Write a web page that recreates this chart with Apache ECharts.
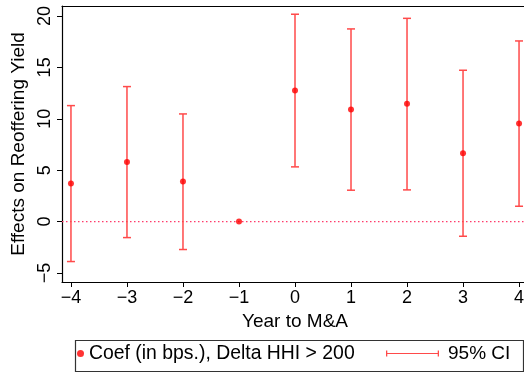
<!DOCTYPE html>
<html>
<head>
<meta charset="utf-8">
<script src="https://cdn.jsdelivr.net/npm/echarts@6/dist/echarts.min.js"></script>
<style>
html,body{margin:0;padding:0;background:#fff;}
#c{width:524px;height:372px;}
</style>
</head>
<body>
<div id="c"></div>
<script>
// Data
var years = [-4, -3, -2, -1, 0, 1, 2, 3, 4];
var coef = [3.7, 5.8, 3.9, 0, 12.74, 10.9, 11.45, 6.64, 9.53];
var ciLow = [-3.89, -1.56, -2.72, null, 5.32, 3.05, 3.08, -1.43, 1.49];
var ciHigh = [11.28, 13.13, 10.47, null, 20.17, 18.74, 19.77, 14.72, 17.57];
var xTicks = [-4, -3, -2, -1, 0, 1, 2, 3, 4];
var yTicks = [-5, 0, 5, 10, 15, 20];
var zeroLine = [0, 0];
var coefName = 'Coef (in bps.), Delta HHI > 200';
var ciName = '95% CI';

var XMIN = -4.16, XMAX = 4.16;
var pointData = years.map(function (x, i) { return [x, coef[i]]; });
var ciData = [];
years.forEach(function (x, i) {
  if (ciLow[i] !== null) ciData.push([x, ciLow[i], ciHigh[i]]);
});
var zeroData = [[XMIN, zeroLine[0]], [XMAX, zeroLine[1]]];

var FONT = '"Liberation Sans", Arial, Helvetica, sans-serif';
var CI_COLOR = '#ff4a4a';
function fmt(v) { return String(v).replace('-', '\u2212'); }

var chart = echarts.init(document.getElementById('c'), null, {renderer: 'canvas'});
chart.setOption({
  animation: false,
  backgroundColor: '#fff',
  grid: {left: 62, right: -4, top: 6, bottom: 90, outerBoundsMode: 'none', containLabel: false},
  xAxis: [{
    type: 'value', min: XMIN, max: XMAX,
    name: 'Year to M&A', nameLocation: 'middle', nameGap: 27,
    nameTextStyle: {fontFamily: FONT, fontSize: 19, color: '#000'},
    axisLine: {show: true, onZero: false, lineStyle: {color: '#000', width: 1.2}},
    axisTick: {show: true, length: 5, customValues: xTicks, lineStyle: {color: '#000'}},
    axisLabel: {customValues: xTicks, formatter: fmt, margin: 7, fontFamily: FONT, fontSize: 18, color: '#000', hideOverlap: false},
    splitLine: {show: false}
  }, {
    type: 'value', min: XMIN, max: XMAX, position: 'top',
    axisLine: {show: true, onZero: false, lineStyle: {color: '#000', width: 1.2}},
    axisTick: {show: false}, axisLabel: {show: false}, splitLine: {show: false}
  }],
  yAxis: {
    type: 'value', min: -5.88, max: 20.97,
    name: 'Effects on Reoffering Yield', nameLocation: 'middle', nameGap: 31,
    nameTextStyle: {fontFamily: FONT, fontSize: 19, color: '#000'},
    axisLine: {show: true, onZero: false, lineStyle: {color: '#000', width: 1.2}},
    axisTick: {show: true, length: 5, customValues: yTicks, lineStyle: {color: '#000'}},
    axisLabel: {customValues: yTicks, formatter: fmt, rotate: 90, margin: 8, fontFamily: FONT, fontSize: 18, color: '#000'},
    splitLine: {show: false}
  },
  legend: [{
    left: 77, top: 344, padding: 0, itemWidth: 7, itemHeight: 7,
    textStyle: {fontFamily: FONT, fontSize: 19.4, color: '#000'},
    data: [{name: coefName, icon: 'circle'}],
    selectedMode: false
  }, {
    left: 386, top: 344, padding: 0, itemWidth: 53, itemHeight: 6,
    textStyle: {fontFamily: FONT, fontSize: 19, color: '#000', padding: [0, 0, 0, 4]},
    data: [{name: ciName, icon: 'path://M0,0h1.3v6h-1.3z M0,2.4h53v1.2h-53z M51.7,0h1.3v6h-1.3z', itemStyle: {color: CI_COLOR}}],
    selectedMode: false
  }],
  graphic: [{
    type: 'rect', left: 73, top: 338,
    shape: {width: 448, height: 31},
    style: {fill: 'none', stroke: '#333', lineWidth: 1.2}
  }],
  series: [{
    name: 'zero',
    type: 'line',
    data: zeroData,
    symbol: 'none',
    silent: true,
    lineStyle: {color: '#ff3a6a', width: 1.2, type: [1.5, 2.5]},
    itemStyle: {color: '#ff3a6a'},
    z: 1
  }, {
    name: ciName,
    type: 'custom',
    itemStyle: {color: CI_COLOR},
    renderItem: function (params, api) {
      var x = api.value(0);
      var lo = api.coord([x, api.value(1)]);
      var hi = api.coord([x, api.value(2)]);
      var hw = 4;
      var st = {stroke: CI_COLOR, lineWidth: 1.5, fill: null};
      return {
        type: 'group',
        children: [
          {type: 'line', shape: {x1: lo[0], y1: lo[1], x2: hi[0], y2: hi[1]}, style: st},
          {type: 'line', shape: {x1: lo[0] - hw, y1: lo[1], x2: lo[0] + hw, y2: lo[1]}, style: st},
          {type: 'line', shape: {x1: hi[0] - hw, y1: hi[1], x2: hi[0] + hw, y2: hi[1]}, style: st}
        ]
      };
    },
    encode: {x: 0, y: [1, 2]},
    data: ciData,
    z: 2
  }, {
    name: coefName,
    type: 'scatter',
    symbol: 'circle',
    symbolSize: 6,
    itemStyle: {color: '#ff0000'},
    data: pointData,
    z: 3
  }]
});
</script>
</body>
</html>
